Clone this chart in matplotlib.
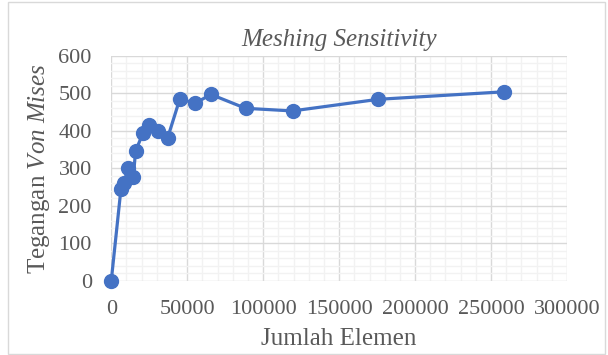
import numpy as np
import matplotlib.pyplot as plt
from matplotlib.patches import Rectangle
from matplotlib.ticker import MultipleLocator

# Data
elements = [0, 6400, 8400, 10800, 14500, 16000, 21000, 24800, 30900, 37100,
            45200, 55000, 65600, 88400, 119300, 175700, 258600]
stress = [0, 246, 260, 300, 276, 346, 395, 415, 400, 381,
          486, 473, 497, 460, 453, 484, 504]

plt.rcParams['font.family'] = ['Liberation Serif', 'DejaVu Serif']
plt.rcParams['mathtext.fontset'] = 'custom'
plt.rcParams['mathtext.rm'] = 'Liberation Serif'
plt.rcParams['mathtext.it'] = 'Liberation Serif:italic'

text_color = '#595959'
blue = '#4472C4'

fig = plt.figure(figsize=(6.08, 3.55), dpi=100)
ax = fig.add_axes([0.183, 0.209, 0.7496, 0.6338])

# chart area border
fig.patches.append(Rectangle((0.013, 0.004), 0.982, 0.99, transform=fig.transFigure,
                             fill=False, edgecolor='#D9D9D9', linewidth=1))

ax.plot(elements, stress, '-o', color=blue, linewidth=2.3, markersize=10, zorder=3)

ax.set_xlim(0, 300000)
ax.set_ylim(0, 600)
ax.xaxis.set_major_locator(MultipleLocator(50000))
ax.xaxis.set_minor_locator(MultipleLocator(10000))
ax.yaxis.set_major_locator(MultipleLocator(100))
ax.yaxis.set_minor_locator(MultipleLocator(20))

ax.grid(which='major', color='#D9D9D9', linewidth=1.0)
ax.grid(which='minor', color='#F2F2F2', linewidth=1.0)
ax.set_axisbelow(True)
for s in ax.spines.values():
    s.set_visible(False)

ax.tick_params(which='both', length=0, labelsize=16, labelcolor=text_color)
ax.tick_params(axis='y', pad=14)
ax.tick_params(axis='x', pad=14)

ax.set_title('Meshing Sensitivity', fontsize=18, style='italic', color=text_color, pad=7)
ax.set_xlabel('Jumlah Elemen', fontsize=18, color=text_color, labelpad=6)
ax.set_ylabel(r'Tegangan $\it{Von\ Mises}$', fontsize=18, color=text_color, labelpad=5)

for line in ax.get_lines():
    line.set_clip_on(False)

plt.savefig('out.png', dpi=100)
